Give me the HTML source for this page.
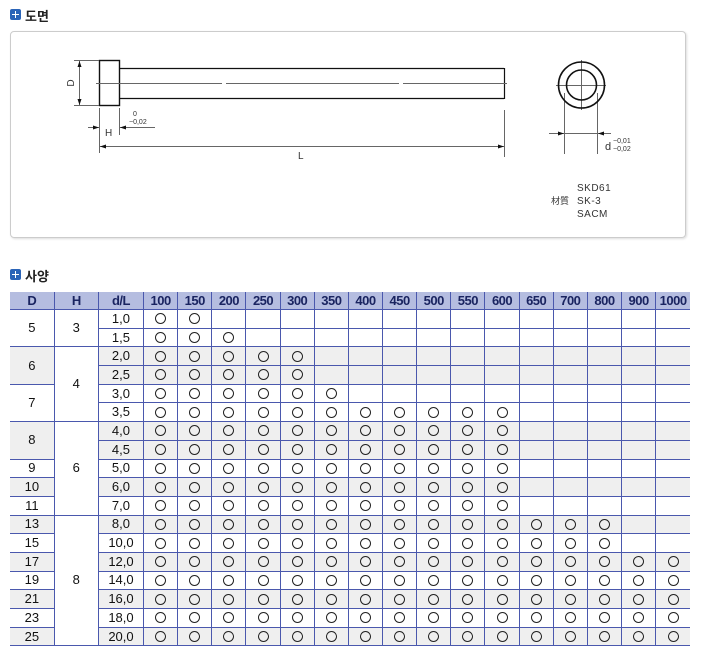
<!DOCTYPE html>
<html><head><meta charset="utf-8"><style>
body{margin:0;width:701px;height:666px;background:#fff;position:relative;font-family:"Liberation Sans","Noto Sans CJK KR",sans-serif;overflow:hidden}
.t{position:absolute;font-size:13px;font-weight:bold;color:#222}
.ic{position:absolute;width:11px;height:11px;background:#2a64b8;border-radius:2px}
.ic:after{content:"";position:absolute;left:2px;top:5px;width:7px;height:1px;background:#fff}
.ic:before{content:"";position:absolute;left:5px;top:2px;width:1px;height:7px;background:#fff}
.box{position:absolute;left:10px;top:31px;width:674px;height:205px;border:1px solid #ccc;border-radius:4px;box-shadow:1px 1px 2px #ddd}
table{position:absolute;left:10px;top:292px;border-collapse:collapse;font-family:"Liberation Sans","Noto Sans CJK KR",sans-serif;font-size:13px;table-layout:fixed;width:680px}
td,th{border:1px solid #4a58ad;padding:0;text-align:center;height:17.7px;line-height:16px;color:#111}
td{font-size:13px}
th{background:#b5bde0;color:#1a2460;font-weight:bold;font-size:13px;height:17px;letter-spacing:-0.5px}
tr>*:first-child{border-left:none}
tr>*:last-child{border-right:none}
tr:first-child th{border-top:none}
.g td{background:#efefef}
td.w{background:#fff!important}
td.o{font-size:0}
td.o:after{content:"";display:inline-block;width:9px;height:9px;border:1px solid #222;border-radius:50%;vertical-align:middle}
</style></head><body>
<div class="ic" style="left:10px;top:9px"></div><div class="t" style="left:25px;top:6px">도면</div>
<div class="box"></div>
<svg style="position:absolute;left:0;top:0" width="701" height="240">
<g stroke="#111" fill="none">
<rect x="99.5" y="60.5" width="20" height="45" stroke-width="1.4"/>
<line x1="119" y1="68.5" x2="504" y2="68.5" stroke-width="1.2"/>
<line x1="119" y1="98.5" x2="504" y2="98.5" stroke-width="1.2"/>
<line x1="504.5" y1="68" x2="504.5" y2="99" stroke-width="1.2"/>
</g>
<g stroke="#666" stroke-width="1" fill="none">
<line x1="96" y1="83.5" x2="222" y2="83.5"/><line x1="226" y1="83.5" x2="399" y2="83.5"/><line x1="403" y1="83.5" x2="507" y2="83.5"/>
<line x1="74" y1="60.5" x2="99" y2="60.5"/><line x1="74" y1="105.5" x2="99" y2="105.5"/>
<line x1="79.5" y1="61" x2="79.5" y2="105"/>
<line x1="99.5" y1="108" x2="99.5" y2="153"/><line x1="119.5" y1="108" x2="119.5" y2="135"/>
<line x1="88" y1="127.5" x2="99" y2="127.5"/><line x1="120" y1="127.5" x2="155" y2="127.5"/>
<line x1="100" y1="146.5" x2="504" y2="146.5"/>
<line x1="504.5" y1="110" x2="504.5" y2="157"/>
<line x1="556" y1="85.5" x2="606" y2="85.5"/><line x1="581.5" y1="60" x2="581.5" y2="110"/>
<line x1="564.5" y1="93" x2="564.5" y2="154"/><line x1="597.5" y1="93" x2="597.5" y2="154"/>
<line x1="549" y1="133.5" x2="611" y2="133.5"/>
</g>
<g fill="#111">
<path d="M79.5 61l-2 6h4z"/><path d="M79.5 105l-2-6h4z"/>
<path d="M99 127.5l-6-2v4z"/><path d="M120 127.5l6-2v4z"/>
<path d="M100 146.5l6-2v4z"/><path d="M504 146.5l-6-2v4z"/>
<path d="M564 133.5l-6-2v4z"/><path d="M598 133.5l6-2v4z"/>
</g>
<circle cx="581.5" cy="85" r="23" fill="none" stroke="#111" stroke-width="1.6"/>
<circle cx="581.5" cy="85" r="15" fill="none" stroke="#111" stroke-width="1.6"/>
<g font-family="Liberation Sans,sans-serif" fill="#333">
<text x="74" y="83" font-size="10" transform="rotate(-90 74 83)" text-anchor="middle">D</text>
<text x="105" y="136" font-size="10">H</text>
<text x="133" y="116" font-size="7">0</text>
<text x="129" y="124" font-size="7">−0,02</text>
<text x="298" y="159" font-size="10">L</text>
<text x="605" y="150" font-size="11">d</text>
<text x="613" y="143" font-size="7">−0,01</text>
<text x="613" y="151" font-size="7">−0,02</text>
<text x="577" y="191" font-size="10" letter-spacing="0.5">SKD61</text>
<text x="551" y="204" font-size="9" font-family="Noto Sans CJK JP,sans-serif">材質</text>
<text x="577" y="204" font-size="10" letter-spacing="0.5">SK-3</text>
<text x="577" y="217" font-size="10" letter-spacing="0.5">SACM</text>
</g>
</svg>
<div class="ic" style="left:10px;top:269px"></div><div class="t" style="left:25px;top:266px">사양</div>
<table>
<colgroup><col style="width:44px"><col style="width:44px"><col style="width:45px"><col span="16" style="width:34px"></colgroup>
<tr><th>D</th><th>H</th><th>d/L</th><th>100</th><th>150</th><th>200</th><th>250</th><th>300</th><th>350</th><th>400</th><th>450</th><th>500</th><th>550</th><th>600</th><th>650</th><th>700</th><th>800</th><th>900</th><th>1000</th></tr>
<tr><td rowspan="2">5</td><td rowspan="2" class="w">3</td><td>1,0</td><td class="o"></td><td class="o"></td><td></td><td></td><td></td><td></td><td></td><td></td><td></td><td></td><td></td><td></td><td></td><td></td><td></td><td></td></tr>
<tr><td>1,5</td><td class="o"></td><td class="o"></td><td class="o"></td><td></td><td></td><td></td><td></td><td></td><td></td><td></td><td></td><td></td><td></td><td></td><td></td><td></td></tr>
<tr class="g"><td rowspan="2">6</td><td rowspan="4" class="w">4</td><td>2,0</td><td class="o"></td><td class="o"></td><td class="o"></td><td class="o"></td><td class="o"></td><td></td><td></td><td></td><td></td><td></td><td></td><td></td><td></td><td></td><td></td><td></td></tr>
<tr class="g"><td>2,5</td><td class="o"></td><td class="o"></td><td class="o"></td><td class="o"></td><td class="o"></td><td></td><td></td><td></td><td></td><td></td><td></td><td></td><td></td><td></td><td></td><td></td></tr>
<tr><td rowspan="2">7</td><td>3,0</td><td class="o"></td><td class="o"></td><td class="o"></td><td class="o"></td><td class="o"></td><td class="o"></td><td></td><td></td><td></td><td></td><td></td><td></td><td></td><td></td><td></td><td></td></tr>
<tr><td>3,5</td><td class="o"></td><td class="o"></td><td class="o"></td><td class="o"></td><td class="o"></td><td class="o"></td><td class="o"></td><td class="o"></td><td class="o"></td><td class="o"></td><td class="o"></td><td></td><td></td><td></td><td></td><td></td></tr>
<tr class="g"><td rowspan="2">8</td><td rowspan="5" class="w">6</td><td>4,0</td><td class="o"></td><td class="o"></td><td class="o"></td><td class="o"></td><td class="o"></td><td class="o"></td><td class="o"></td><td class="o"></td><td class="o"></td><td class="o"></td><td class="o"></td><td></td><td></td><td></td><td></td><td></td></tr>
<tr class="g"><td>4,5</td><td class="o"></td><td class="o"></td><td class="o"></td><td class="o"></td><td class="o"></td><td class="o"></td><td class="o"></td><td class="o"></td><td class="o"></td><td class="o"></td><td class="o"></td><td></td><td></td><td></td><td></td><td></td></tr>
<tr><td>9</td><td>5,0</td><td class="o"></td><td class="o"></td><td class="o"></td><td class="o"></td><td class="o"></td><td class="o"></td><td class="o"></td><td class="o"></td><td class="o"></td><td class="o"></td><td class="o"></td><td></td><td></td><td></td><td></td><td></td></tr>
<tr class="g"><td>10</td><td>6,0</td><td class="o"></td><td class="o"></td><td class="o"></td><td class="o"></td><td class="o"></td><td class="o"></td><td class="o"></td><td class="o"></td><td class="o"></td><td class="o"></td><td class="o"></td><td></td><td></td><td></td><td></td><td></td></tr>
<tr><td>11</td><td>7,0</td><td class="o"></td><td class="o"></td><td class="o"></td><td class="o"></td><td class="o"></td><td class="o"></td><td class="o"></td><td class="o"></td><td class="o"></td><td class="o"></td><td class="o"></td><td></td><td></td><td></td><td></td><td></td></tr>
<tr class="g"><td>13</td><td rowspan="7" class="w">8</td><td>8,0</td><td class="o"></td><td class="o"></td><td class="o"></td><td class="o"></td><td class="o"></td><td class="o"></td><td class="o"></td><td class="o"></td><td class="o"></td><td class="o"></td><td class="o"></td><td class="o"></td><td class="o"></td><td class="o"></td><td></td><td></td></tr>
<tr><td>15</td><td>10,0</td><td class="o"></td><td class="o"></td><td class="o"></td><td class="o"></td><td class="o"></td><td class="o"></td><td class="o"></td><td class="o"></td><td class="o"></td><td class="o"></td><td class="o"></td><td class="o"></td><td class="o"></td><td class="o"></td><td></td><td></td></tr>
<tr class="g"><td>17</td><td>12,0</td><td class="o"></td><td class="o"></td><td class="o"></td><td class="o"></td><td class="o"></td><td class="o"></td><td class="o"></td><td class="o"></td><td class="o"></td><td class="o"></td><td class="o"></td><td class="o"></td><td class="o"></td><td class="o"></td><td class="o"></td><td class="o"></td></tr>
<tr><td>19</td><td>14,0</td><td class="o"></td><td class="o"></td><td class="o"></td><td class="o"></td><td class="o"></td><td class="o"></td><td class="o"></td><td class="o"></td><td class="o"></td><td class="o"></td><td class="o"></td><td class="o"></td><td class="o"></td><td class="o"></td><td class="o"></td><td class="o"></td></tr>
<tr class="g"><td>21</td><td>16,0</td><td class="o"></td><td class="o"></td><td class="o"></td><td class="o"></td><td class="o"></td><td class="o"></td><td class="o"></td><td class="o"></td><td class="o"></td><td class="o"></td><td class="o"></td><td class="o"></td><td class="o"></td><td class="o"></td><td class="o"></td><td class="o"></td></tr>
<tr><td>23</td><td>18,0</td><td class="o"></td><td class="o"></td><td class="o"></td><td class="o"></td><td class="o"></td><td class="o"></td><td class="o"></td><td class="o"></td><td class="o"></td><td class="o"></td><td class="o"></td><td class="o"></td><td class="o"></td><td class="o"></td><td class="o"></td><td class="o"></td></tr>
<tr class="g"><td>25</td><td>20,0</td><td class="o"></td><td class="o"></td><td class="o"></td><td class="o"></td><td class="o"></td><td class="o"></td><td class="o"></td><td class="o"></td><td class="o"></td><td class="o"></td><td class="o"></td><td class="o"></td><td class="o"></td><td class="o"></td><td class="o"></td><td class="o"></td></tr>
</table>
</body></html>
